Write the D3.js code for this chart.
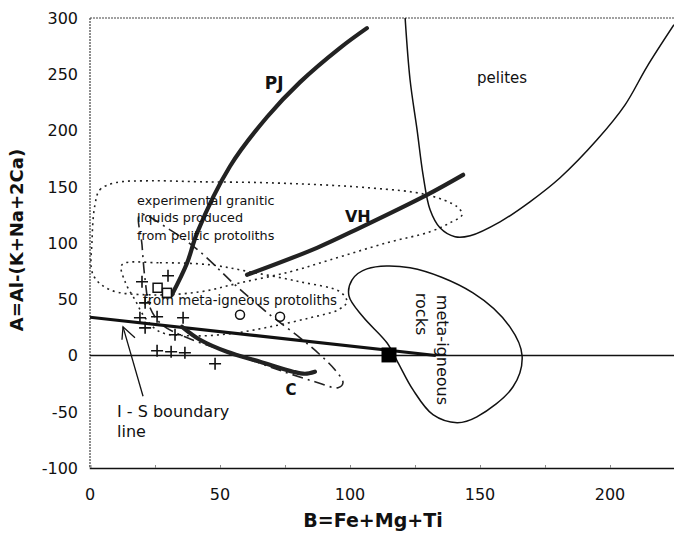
<!DOCTYPE html>
<html>
<head>
<meta charset="utf-8">
<script src="https://cdn.jsdelivr.net/npm/d3@7"></script>
<style>
body { margin: 0; background: #fff; }
text { font-family: "DejaVu Sans", sans-serif; fill: #111; }
</style>
</head>
<body>
<svg id="chart"></svg>
<script>
// axis ticks
const xTicks = [0, 50, 100, 150, 200];
const yTicks = [-100, -50, 0, 50, 100, 150, 200, 250, 300];

// trends (thick lines)
const pjCurve = [[31.5, 54], [37.3, 82], [41.2, 109], [53.8, 168], [68.1, 212], [80.8, 243], [96.2, 273.5], [106.5, 291]];
const vhCurve = [[60.4, 71.7], [87.3, 95.7], [103.8, 113.5], [129.6, 142.8], [143.5, 160.6]];
const cCurve = [[35.4, 25.5], [42.3, 14], [52.7, 3.3], [65.4, -5.5], [78.1, -14.4], [82.7, -16.2], [86.5, -14.4]];
const isBoundary = [[0, 34], [133, 0]];

// fields
const pelites = [[121.2, 300.2], [123.1, 245.1], [125.8, 200.6], [128.1, 160.6], [130.8, 129.5], [134.6, 113.5],
  [140.4, 105.5], [146.2, 106.4], [157.7, 118.8], [169.2, 136.6], [180.8, 158], [195, 191.7],
  [205.8, 222.8], [214.2, 256.6], [224.6, 294]];
const metaIgneousRocks = [[100.8, 67.3], [106.5, 77], [123.1, 78], [147.3, 55.7], [161.5, 25.5], [166.2, -0.3],
  [162.7, -27.8], [148.8, -54.5], [141.2, -59.7], [131.9, -52.6], [124.2, -30.4], [118.5, -6.5],
  [114.2, 11.3], [105, 34.4], [99.6, 53]];
const peliticLiquids = [[1.9, 133.9], [3.8, 147.3], [9.6, 153.5], [23.1, 155.3], [42.3, 154.4], [69.2, 153.5],
  [107.7, 149], [129.6, 142.8], [141.2, 132.2], [143.1, 125.1], [138.5, 118], [130.8, 110],
  [114.2, 100.2], [92.3, 85], [76.9, 74.4], [57.7, 64.6], [42.3, 56.6], [23.1, 53.9], [7.7, 58.4],
  [1.2, 71.7], [0.8, 102.8]];
const metaIgneousLiquids = [[12.3, 80.6], [26.9, 82.4], [46.2, 80.6], [61.5, 74.4], [80.8, 65.5], [96.2, 56.6],
  [98.8, 47.7], [95.4, 40.6], [84.6, 33.5], [69.2, 25.5], [53.8, 19.3], [38.5, 17.5], [26.9, 21],
  [21.2, 33.5], [17.3, 49.5], [13.5, 65.5]];
const dashDotField = [[19.2, 125.1], [30.8, 111.7], [42.3, 92.2], [55.8, 62.8], [69.2, 36.2], [80.8, 15.7],
  [88.5, 0.6], [94.2, -12.7], [97.3, -24.2], [95.4, -28.6], [86.5, -23.3], [75, -14.8], [61.5, -3.8],
  [48.1, 6.8], [36.5, 16.6], [27.7, 27.3], [23.1, 42.4], [21.2, 67.3], [20, 98.4]];

// samples
const crosses = [[30, 70.9], [20, 65.5], [21.2, 46.8], [25.8, 34.4], [19.2, 33.5], [21.2, 24.6], [35.8, 33.5],
  [32.7, 18.4], [25.8, 4.2], [31.2, 3.3], [36.5, 2.4], [48.1, -7.3]];
const openSquares = [[26, 60.2], [29.6, 55.7]];
const openCircles = [[57.7, 36.2], [73.1, 34.4]];
const filledSquare = [[115, 0.5]];

// arrow to the I-S line
const arrowShaft = [[20.4, -36.2], [12.7, 25.5]];
const arrowHead = [[12.3, 14], [12.7, 25.5], [17.3, 15.8]];

const width = 674, height = 541;
const svg = d3.select("#chart").attr("width", width).attr("height", height);

const x = d3.scaleLinear().domain([0, 225]).range([90, 675]);
const y = d3.scaleLinear().domain([-100, 300]).range([468, 18]);

svg.append("clipPath").attr("id", "plotclip")
  .append("rect").attr("x", 90).attr("y", 18).attr("width", 584).attr("height", 450);

// frame: dotted top and left, solid bottom
svg.append("line").attr("x1", 90).attr("x2", 674).attr("y1", 18).attr("y2", 18)
  .attr("stroke", "#444").attr("stroke-width", 1.2).attr("stroke-dasharray", "2,1");
svg.append("line").attr("x1", 90).attr("x2", 90).attr("y1", 18).attr("y2", 468)
  .attr("stroke", "#444").attr("stroke-width", 1.2).attr("stroke-dasharray", "2,1");

const xAxis = svg.append("g").attr("transform", `translate(0,${y(-100)})`)
  .call(d3.axisBottom(x).tickValues(d3.range(0, 226, 25)).tickSize(-3).tickFormat(""));
xAxis.select(".domain").attr("stroke", "#111").attr("stroke-width", 1.5);
xAxis.selectAll(".tick line").attr("stroke", "#888");

svg.append("g").selectAll("text").data(xTicks).join("text")
  .attr("x", d => x(d)).attr("y", 500)
  .attr("text-anchor", "middle").attr("font-size", 16).text(d => d);

svg.append("g").selectAll("text").data(yTicks).join("text")
  .attr("x", 78).attr("y", d => y(d)).attr("dy", "0.36em")
  .attr("text-anchor", "end").attr("font-size", 16).text(d => d);

svg.append("text").attr("x", 373).attr("y", 527).attr("text-anchor", "middle")
  .attr("font-size", 19).attr("font-weight", "bold").text("B=Fe+Mg+Ti");
svg.append("text").attr("transform", "translate(23,240) rotate(-90)").attr("text-anchor", "middle")
  .attr("font-size", 18).attr("font-weight", "bold").text("A=Al-(K+Na+2Ca)");

const plot = svg.append("g").attr("clip-path", "url(#plotclip)");

const line = d3.line().x(d => x(d[0])).y(d => y(d[1])).curve(d3.curveCatmullRom);
const loop = d3.line().x(d => x(d[0])).y(d => y(d[1])).curve(d3.curveCatmullRomClosed);

// zero line
plot.append("line").attr("x1", 90).attr("x2", 674).attr("y1", y(0)).attr("y2", y(0))
  .attr("stroke", "#111").attr("stroke-width", 1.5);

plot.append("path").attr("d", loop(peliticLiquids)).attr("fill", "none")
  .attr("stroke", "#222").attr("stroke-width", 1.6).attr("stroke-dasharray", "2,4");
plot.append("path").attr("d", loop(metaIgneousLiquids)).attr("fill", "none")
  .attr("stroke", "#222").attr("stroke-width", 1.6).attr("stroke-dasharray", "2,4");
plot.append("path").attr("d", loop(dashDotField)).attr("fill", "none")
  .attr("stroke", "#222").attr("stroke-width", 1.6).attr("stroke-dasharray", "11,5,2,5");

plot.append("path").attr("d", line(pelites)).attr("fill", "none")
  .attr("stroke", "#111").attr("stroke-width", 1.5);
plot.append("path").attr("d", loop(metaIgneousRocks)).attr("fill", "none")
  .attr("stroke", "#111").attr("stroke-width", 1.5);

plot.append("path").attr("d", d3.line().x(d => x(d[0])).y(d => y(d[1]))(isBoundary))
  .attr("fill", "none").attr("stroke", "#111").attr("stroke-width", 3.2);

[pjCurve, vhCurve, cCurve].forEach(c => {
  plot.append("path").attr("d", line(c)).attr("fill", "none")
    .attr("stroke", "#222").attr("stroke-width", 4.2).attr("stroke-linecap", "round");
});

// markers
plot.append("g").selectAll("path").data(crosses).join("path")
  .attr("d", d => `M${x(d[0]) - 6},${y(d[1])}h12M${x(d[0])},${y(d[1]) - 6}v12`)
  .attr("stroke", "#111").attr("stroke-width", 1.6);
plot.append("g").selectAll("rect").data(openSquares).join("rect")
  .attr("x", d => x(d[0]) - 4.5).attr("y", d => y(d[1]) - 4.5).attr("width", 9).attr("height", 9)
  .attr("fill", "#fff").attr("stroke", "#111").attr("stroke-width", 1.5);
plot.append("g").selectAll("circle").data(openCircles).join("circle")
  .attr("cx", d => x(d[0])).attr("cy", d => y(d[1])).attr("r", 4.5)
  .attr("fill", "none").attr("stroke", "#111").attr("stroke-width", 1.5);
plot.append("g").selectAll("rect").data(filledSquare).join("rect")
  .attr("x", d => x(d[0]) - 7.5).attr("y", d => y(d[1]) - 7.5).attr("width", 15).attr("height", 15)
  .attr("fill", "#000");

// arrow
const straight = d3.line().x(d => x(d[0])).y(d => y(d[1]));
plot.append("path").attr("d", straight(arrowShaft)).attr("fill", "none").attr("stroke", "#111").attr("stroke-width", 1.3);
plot.append("path").attr("d", straight(arrowHead)).attr("fill", "none").attr("stroke", "#111").attr("stroke-width", 1.3);

// labels
const lab = (tx, ty, str, size, bold, anchor) => plot.append("text")
  .attr("x", x(tx)).attr("y", y(ty)).attr("font-size", size)
  .attr("font-weight", bold ? "bold" : "normal").attr("text-anchor", anchor || "start").text(str);

lab(158.5, 242.4, "pelites", 15, false, "middle");
lab(70.8, 237, "PJ", 17, true, "middle");
lab(103, 118.8, "VH", 16, true, "middle");
lab(77.3, -35, "C", 15, true, "middle");
lab(18.1, 134, "experimental granitic", 12.8);
lab(18.1, 118.8, "liquids produced", 12.8);
lab(18.1, 102.8, "from pelitic protoliths", 12.8);
lab(20.4, 45.2, "from meta-igneous protoliths", 13.3);
lab(10.4, -54.8, "I - S boundary", 16);
lab(10.4, -72.6, "line", 16);

plot.append("text").attr("transform", `translate(${x(133.5)},${y(53.9)}) rotate(90)`)
  .attr("font-size", 16).text("meta-igneous");
plot.append("text").attr("transform", `translate(${x(125.4)},${y(55.7)}) rotate(90)`)
  .attr("font-size", 16).text("rocks");
</script>
</body>
</html>
